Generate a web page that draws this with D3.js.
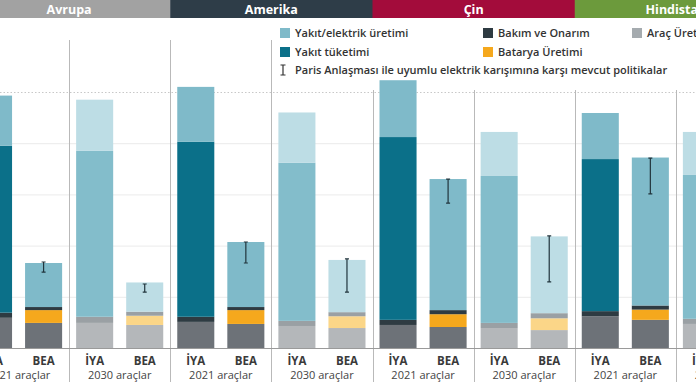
<!DOCTYPE html>
<html>
<head>
<meta charset="utf-8">
<script src="https://cdn.jsdelivr.net/npm/d3@7"></script>
<style>
  html, body { margin: 0; padding: 0; background: #fff; }
  svg { display: block; font-family: "Open Sans", Lato, sans-serif; }
</style>
</head>
<body>
<div id="chart"></div>
<script>
var regions = ['Avrupa', 'Amerika', 'Çin', 'Hindistan'];
var periods = ['2021 araçlar', '2030 araçlar'];
var vehicles = ['İYA', 'BEA'];
var components = ['Araç Üretimi', 'Batarya Üretimi', 'Bakım ve Onarım', 'Yakıt tüketimi', 'Yakıt/elektrik üretimi'];

// one value per bar: region x period x vehicle
var aracUretimi    = [5.9, 4.9, 4.9, 4.5,  5.1, 4.7, 4.3, 3.9,  4.5, 4.1, 3.9, 3.5,  6.2, 5.5, 4.7, 4.3];
var bataryaUretimi = [0, 2.5, 0, 1.8,      0, 2.7, 0, 2.3,      0, 2.5, 0, 2.3,      0, 2.0, 0, 2.0];
var bakimOnarim    = [1.0, 0.6, 1.2, 0.8,  1.0, 0.6, 1.0, 0.8,  1.0, 0.8, 1.0, 1.0,  1.0, 0.8, 1.0, 0.8];
var yakitTuketimi  = [32.6, 0, 32.4, 0,    34.2, 0, 30.9, 0,    35.7, 0, 28.7, 0,    29.7, 0, 28.1, 0];
var yakitElektrik  = [9.8, 8.6, 10.0, 5.7, 10.7, 12.7, 9.8, 10.2, 11.1, 25.6, 8.6, 15.0, 9.0, 28.9, 8.4, 16.0];
var parisLow  = [null, 14.8, null, 10.9, null, 16.6, null, 10.9, null, 28.3, null, 12.9, null, 30.1, null, 13.0];
var parisHigh = [null, 16.8, null, 12.5, null, 20.7, null, 17.4, null, 33.0, null, 21.9, null, 37.1, null, 20.0];
var gridValues = [10, 20, 30, 40, 50];

var regionColors = ['#a2a2a2', '#2e3d48', '#a30c3b', '#6c9a3c'];
var colors2021 = ['#6d7278', '#f5a81d', '#2e3b42', '#0b7089', '#7fbac9'];
var colors2030 = ['#b4b7ba', '#fbd688', '#9aa0a4', '#83bdcb', '#bddde5'];
var legendColors = ['#a5abaf', '#f5a81d', '#2e3b42', '#0b7089', '#7fbac9'];

var width = 696,
    height = 385;

var svg = d3.select('#chart').append('svg')
    .attr('width', width)
    .attr('height', height);

var xRegion = d3.scaleBand().domain(regions).range([-32, 777]);
var xPeriod = d3.scaleBand().domain(periods).range([0, xRegion.bandwidth()]);
var xVehicle = d3.scaleBand().domain(vehicles).range([0, xPeriod.bandwidth()])
    .paddingInner(0.26).paddingOuter(0.14);
var y = d3.scaleLinear().domain([0, 50]).range([348, 92]);

// build bars from arrays
var bars = [];
var i = 0;
regions.forEach(function (r, ri) {
    periods.forEach(function (p, pi) {
        vehicles.forEach(function (v) {
            var vals = [aracUretimi[i], bataryaUretimi[i], bakimOnarim[i], yakitTuketimi[i], yakitElektrik[i]];
            var base = 0;
            var segs = vals.map(function (val, ci) {
                var s = { y0: base, y1: base + val, color: (pi === 0 ? colors2021 : colors2030)[ci] };
                base += val;
                return s;
            });
            bars.push({
                region: r, period: p, vehicle: v, segs: segs,
                low: parisLow[i], high: parisHigh[i],
                x: xRegion(r) + xPeriod(p) + xVehicle(v)
            });
            i++;
        });
    });
});

// header strips
svg.selectAll('.hdr')
    .data(regions)
    .enter().append('rect')
    .attr('x', function (d) { return xRegion(d); })
    .attr('y', 0)
    .attr('width', xRegion.bandwidth() + 0.5)
    .attr('height', 18)
    .attr('fill', function (d, k) { return regionColors[k]; });

svg.selectAll('.hdrtxt')
    .data(regions)
    .enter().append('text')
    .attr('x', function (d) { return xRegion(d) + xRegion.bandwidth() / 2; })
    .attr('y', 13.5)
    .attr('text-anchor', 'middle')
    .attr('fill', '#fff')
    .style('font-size', '12.5px')
    .style('font-weight', 700)
    .text(function (d) { return d; });

// grid lines
svg.selectAll('.grid')
    .data(gridValues)
    .enter().append('line')
    .attr('x1', 0).attr('x2', width)
    .attr('y1', function (d) { return y(d) + 0.5; })
    .attr('y2', function (d) { return y(d) + 0.5; })
    .attr('stroke', function (d) { return d === 50 ? '#c8c8c8' : '#ebebeb'; })
    .attr('stroke-dasharray', function (d) { return d === 50 ? '1.5,2' : null; });

// separators between period halves
var seps = [];
regions.forEach(function (r) {
    periods.forEach(function (p) {
        seps.push(xRegion(r) + xPeriod(p));
    });
});
seps.push(777);
svg.selectAll('.sep')
    .data(seps)
    .enter().append('line')
    .attr('x1', function (d) { return Math.round(d) + 0.5; })
    .attr('x2', function (d) { return Math.round(d) + 0.5; })
    .attr('y1', function (d) { return d < 300 ? 40 : 90; })
    .attr('y2', 382)
    .attr('stroke', '#b9b9b9')
    .attr('stroke-width', 1);

// stacked bars
var barG = svg.selectAll('.bar')
    .data(bars)
    .enter().append('g')
    .attr('class', 'bar');

barG.selectAll('rect')
    .data(function (d) { return d.segs.map(function (s) { return { s: s, x: d.x }; }); })
    .enter().append('rect')
    .filter(function (d) { return d.s.y1 > d.s.y0; })
    .attr('x', function (d) { return d.x; })
    .attr('width', xVehicle.bandwidth())
    .attr('y', function (d) { return y(d.s.y1); })
    .attr('height', function (d) { return y(d.s.y0) - y(d.s.y1); })
    .attr('fill', function (d) { return d.s.color; });

// Paris range markers
var errs = bars.filter(function (d) { return d.low != null; });
var cx = function (d) { return d.x + xVehicle.bandwidth() / 2; };
svg.selectAll('.err')
    .data(errs)
    .enter().append('path')
    .attr('d', function (d) {
        var x = cx(d), y1 = y(d.high), y2 = y(d.low);
        return 'M' + x + ',' + y1 + 'V' + y2 +
            'M' + (x - 2) + ',' + y1 + 'H' + (x + 2) +
            'M' + (x - 2) + ',' + y2 + 'H' + (x + 2);
    })
    .attr('stroke', '#21343c')
    .attr('stroke-width', 1.2)
    .attr('fill', 'none');

// baseline
svg.append('line')
    .attr('x1', 0).attr('x2', width)
    .attr('y1', y(0) + 0.5).attr('y2', y(0) + 0.5)
    .attr('stroke', '#9a9a9a');

// x labels
svg.selectAll('.vlab')
    .data(bars)
    .enter().append('text')
    .attr('x', cx)
    .attr('y', 365)
    .attr('text-anchor', 'middle')
    .attr('fill', '#3a3a3a')
    .style('font-size', '11.5px')
    .style('font-weight', 700)
    .text(function (d) { return d.vehicle; });

var halves = [];
regions.forEach(function (r) {
    periods.forEach(function (p) { halves.push({ r: r, p: p }); });
});
svg.selectAll('.plab')
    .data(halves)
    .enter().append('text')
    .attr('x', function (d) { return xRegion(d.r) + xPeriod(d.p) + xPeriod.bandwidth() / 2; })
    .attr('y', 379)
    .attr('text-anchor', 'middle')
    .attr('fill', '#444')
    .style('font-size', '11px')
    .text(function (d) { return d.p; });

// legend
var legendItems = [
    { c: 4, x: 280, y: 28 },
    { c: 3, x: 280, y: 47 },
    { c: 2, x: 483, y: 28 },
    { c: 1, x: 483, y: 47 },
    { c: 0, x: 632, y: 28 }
];
var leg = svg.selectAll('.leg')
    .data(legendItems)
    .enter().append('g')
    .attr('transform', function (d) { return 'translate(' + d.x + ',' + d.y + ')'; });
leg.append('rect')
    .attr('width', 10).attr('height', 10)
    .attr('fill', function (d) { return legendColors[d.c]; });
leg.append('text')
    .attr('x', 15).attr('y', 9)
    .attr('fill', '#333')
    .style('font-size', '11px')
    .style('font-weight', 600)
    .text(function (d) { return components[d.c]; });

var legErr = svg.append('g').attr('transform', 'translate(283,65)');
legErr.append('path')
    .attr('d', 'M0,0V10M-2.5,0H2.5M-2.5,10H2.5')
    .attr('stroke', '#333').attr('stroke-width', 1.2).attr('fill', 'none');
legErr.append('text')
    .attr('x', 12).attr('y', 9)
    .attr('fill', '#333')
    .style('font-size', '11px')
    .style('font-weight', 600)
    .text('Paris Anlaşması ile uyumlu elektrik karışımına karşı mevcut politikalar');
</script>
</body>
</html>
